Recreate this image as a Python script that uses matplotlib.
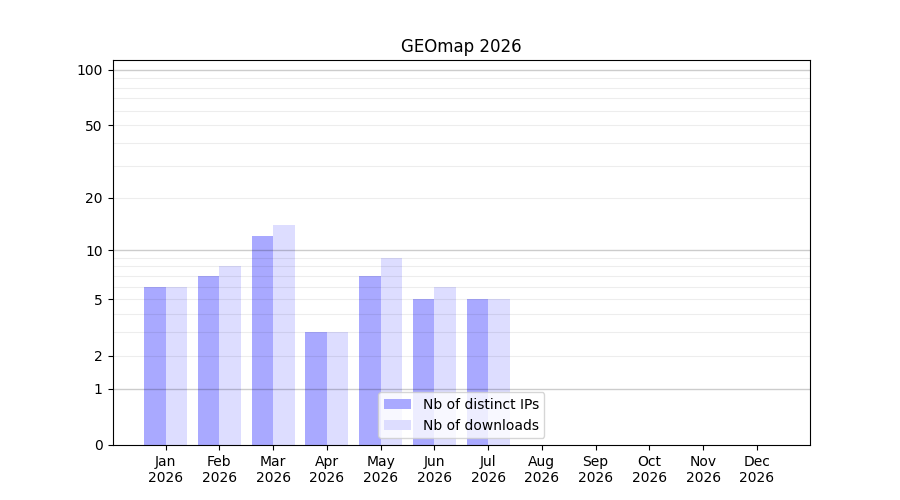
import numpy as np
import matplotlib
matplotlib.use("Agg")
import matplotlib.pyplot as plt
from matplotlib.ticker import FixedLocator, FixedFormatter

months = ["Jan", "Feb", "Mar", "Apr", "May", "Jun", "Jul", "Aug", "Sep", "Oct", "Nov", "Dec"]
year = "2026"
distinct_ips = [6, 7, 12, 3, 7, 5, 5, 0, 0, 0, 0, 0]
downloads = [6, 8, 14, 3, 9, 6, 5, 0, 0, 0, 0, 0]
major_ticks = [0, 1, 2, 5, 10, 20, 50, 100]
minor_ticks = [2, 3, 4, 5, 6, 7, 8, 9, 20, 30, 40, 50, 60, 70, 80, 90]


def forward(y):
    return np.log10(1 + np.clip(y, 0, None))


def inverse(y):
    return 10 ** y - 1


fig, ax = plt.subplots(figsize=(9, 5), dpi=100)
x = np.arange(1, len(months) + 1)
width = 0.4

ax.bar(x - width / 2, distinct_ips, width, color="#a9a9ff", label="Nb of distinct IPs")
ax.bar(x + width / 2, downloads, width, color="#ddddff", label="Nb of downloads")

ax.set_yscale("function", functions=(forward, inverse))
ax.set_ylim(0, 113)
ax.yaxis.set_major_locator(FixedLocator(major_ticks))
ax.yaxis.set_major_formatter(FixedFormatter([str(t) for t in major_ticks]))
ax.yaxis.set_minor_locator(FixedLocator(minor_ticks))
ax.tick_params(axis="y", which="minor", length=0)

# grid drawn over the bars, semi-transparent
for v in [1, 10, 100]:
    ax.axhline(v, color="black", alpha=0.2, linewidth=1, zorder=3)
for v in minor_ticks:
    ax.axhline(v, color="black", alpha=0.07, linewidth=0.8, zorder=3)

ax.set_xticks(x)
ax.set_xticklabels([f"{m}\n{year}" for m in months])

ax.set_title("GEOmap 2026")
ax.legend(loc="lower center")

fig.savefig("out.png")
